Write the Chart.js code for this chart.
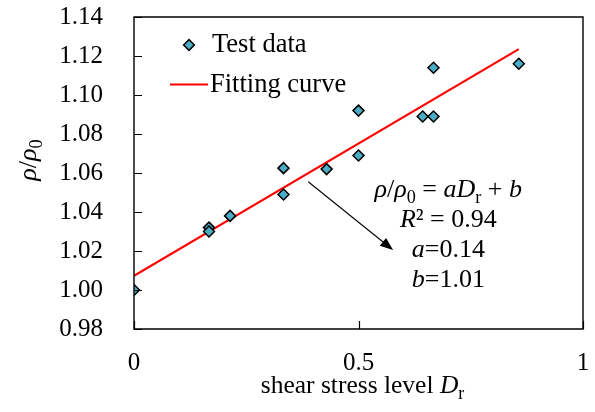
<!DOCTYPE html>
<html>
<head>
<meta charset="utf-8">
<script src="https://cdn.jsdelivr.net/npm/chart.js@4.4.0/dist/chart.umd.min.js"></script>
<style>
  html, body { margin: 0; padding: 0; background: #fff; }
  #wrap { position: relative; width: 595px; height: 412px; }
  #wrap canvas { position: absolute; left: 0; top: 0; }
  #frame { pointer-events: none; }
</style>
</head>
<body>
<div id="wrap">
  <canvas id="myChart" width="595" height="412"></canvas>
  <canvas id="frame" width="595" height="412"></canvas>
</div>
<script>
'use strict';

// test data: shear stress level vs density ratio
let shearLevel = [0, 0.167, 0.167, 0.214, 0.333, 0.333, 0.429, 0.5, 0.5, 0.643, 0.667, 0.667, 0.857];
let densityRatio = [1.000, 1.032, 1.030, 1.038, 1.0625, 1.049, 1.062, 1.092, 1.069, 1.089, 1.089, 1.114, 1.116];

// fitted line end points
let fitX = [0, 0.857];
let fitY = [1.0073, 1.1235];

let xTicks = [0, 0.5, 1];
let yTicks = [0.98, 1.00, 1.02, 1.04, 1.06, 1.08, 1.10, 1.12, 1.14];

// annotation (data coords)
let noteAt = { x: 0.70, y: 1.0477 };
let arrowFrom = { x: 0.388, y: 1.0555 };
let arrowTo = { x: 0.577, y: 1.0205 };

const FONT = "'Liberation Serif', 'Times New Roman', serif";
const TICK_SIZE = 25;
const SIZE = 26;

function toPoints(xs, ys) {
  let pts = [];
  for (let i = 0; i < xs.length; i++) {
    pts.push({ x: xs[i], y: ys[i] });
  }
  return pts;
}

// draws a list of text pieces; returns total width
function richText(ctx, parts, x, y, size, align) {
  let w = 0;
  for (let p of parts) {
    let s = p.sub ? size * 0.7 : size;
    ctx.font = (p.it ? 'italic ' : '') + s + 'px ' + FONT;
    p.w = ctx.measureText(p.t).width;
    w += p.w;
  }
  let cx = align === 'center' ? x - w / 2 : x;
  ctx.textAlign = 'left';
  ctx.textBaseline = 'alphabetic';
  for (let p of parts) {
    let s = p.sub ? size * 0.7 : size;
    ctx.font = (p.it ? 'italic ' : '') + s + 'px ' + FONT;
    ctx.fillText(p.t, cx, y + (p.sub ? size * 0.22 : 0));
    cx += p.w;
  }
  return w;
}

// plot box and inward ticks, drawn on the overlay canvas from the chart's scales
function drawFrame(chart) {
  let ctx = document.getElementById('frame').getContext('2d');
  let area = chart.chartArea;
  let xs = chart.scales.x;
  let ys = chart.scales.y;
  ctx.clearRect(0, 0, 595, 412);
  ctx.strokeStyle = '#000';
  ctx.lineWidth = 1.4;
  ctx.beginPath();
  ctx.rect(area.left, area.top, area.right - area.left, area.bottom - area.top);
  ctx.stroke();
  ctx.lineWidth = 1.2;
  ctx.beginPath();
  for (let v of yTicks) {
    let py = Math.round(ys.getPixelForValue(v)) + 0.5;
    ctx.moveTo(area.left, py);
    ctx.lineTo(area.left + 8, py);
  }
  for (let v of xTicks) {
    let px = Math.round(xs.getPixelForValue(v)) + 0.5;
    ctx.moveTo(px, area.bottom);
    ctx.lineTo(px, area.bottom - 8);
  }
  ctx.stroke();
}

let decorations = {
  id: 'decorations',
  afterDraw(chart) {
    let ctx = chart.ctx;
    let area = chart.chartArea;
    let xs = chart.scales.x;
    let ys = chart.scales.y;

    ctx.save();
    ctx.strokeStyle = '#000';
    ctx.fillStyle = '#000';

    // axis titles
    richText(ctx, [{ t: 'shear stress level ' }, { t: 'D', it: true }, { t: 'r', sub: true }],
      (area.left + area.right) / 2 + 4, 393, 25.5, 'center');
    ctx.save();
    ctx.translate(36, 160);
    ctx.rotate(-Math.PI / 2);
    richText(ctx, [{ t: 'ρ', it: true }, { t: '/' }, { t: 'ρ', it: true }, { t: '0', sub: true }],
      0, 0, SIZE, 'center');
    ctx.restore();

    // legend
    let ds = chart.data.datasets;
    ctx.font = '26.5px ' + FONT;
    ctx.textBaseline = 'alphabetic';
    ctx.textAlign = 'left';
    ctx.save();
    ctx.translate(189, 45);
    ctx.rotate(Math.PI / 4);
    ctx.fillStyle = ds[0].backgroundColor;
    ctx.lineWidth = 1.5;
    ctx.fillRect(-3.8, -3.8, 7.6, 7.6);
    ctx.strokeRect(-3.8, -3.8, 7.6, 7.6);
    ctx.restore();
    ctx.fillText(ds[0].label, 212, 52);
    ctx.strokeStyle = ds[1].borderColor;
    ctx.lineWidth = 2.2;
    ctx.beginPath();
    ctx.moveTo(170, 84.5);
    ctx.lineTo(208, 84.5);
    ctx.stroke();
    ctx.fillStyle = '#000';
    ctx.fillText(ds[1].label, 210, 92);

    // equation note
    let nx = xs.getPixelForValue(noteAt.x);
    let ny = ys.getPixelForValue(noteAt.y);
    let lines = [
      [{ t: 'ρ', it: true }, { t: '/' }, { t: 'ρ', it: true }, { t: '0', sub: true }, { t: ' = ' },
       { t: 'aD', it: true }, { t: 'r', sub: true }, { t: ' + ' }, { t: 'b', it: true }],
      [{ t: 'R', it: true }, { t: '² = 0.94' }],
      [{ t: 'a', it: true }, { t: '=0.14' }],
      [{ t: 'b', it: true }, { t: '=1.01' }]
    ];
    for (let i = 0; i < lines.length; i++) {
      richText(ctx, lines[i], nx, ny + i * 30, SIZE, 'center');
    }

    // arrow
    let ax = xs.getPixelForValue(arrowFrom.x);
    let ay = ys.getPixelForValue(arrowFrom.y);
    let bx = xs.getPixelForValue(arrowTo.x);
    let by = ys.getPixelForValue(arrowTo.y);
    let ang = Math.atan2(by - ay, bx - ax);
    ctx.strokeStyle = '#000';
    ctx.lineWidth = 1.1;
    ctx.beginPath();
    ctx.moveTo(ax, ay);
    ctx.lineTo(bx - 10 * Math.cos(ang), by - 10 * Math.sin(ang));
    ctx.stroke();
    ctx.beginPath();
    ctx.moveTo(bx, by);
    ctx.lineTo(bx - 13 * Math.cos(ang) + 5 * Math.sin(ang), by - 13 * Math.sin(ang) - 5 * Math.cos(ang));
    ctx.lineTo(bx - 13 * Math.cos(ang) - 5 * Math.sin(ang), by - 13 * Math.sin(ang) + 5 * Math.cos(ang));
    ctx.closePath();
    ctx.fill();

    ctx.restore();

    drawFrame(chart);
  }
};

const data = {
  datasets: [
    {
      label: 'Test data',
      data: toPoints(shearLevel, densityRatio),
      pointStyle: 'rectRot',
      pointRadius: 5.5,
      pointBorderWidth: 1.5,
      backgroundColor: '#4bacc6',
      borderColor: '#000',
      showLine: false
    },
    {
      label: 'Fitting curve',
      data: toPoints(fitX, fitY),
      showLine: true,
      pointRadius: 0,
      borderColor: '#ff0000',
      borderWidth: 2.2,
      fill: false
    }
  ]
};

const config = {
  type: 'scatter',
  data: data,
  options: {
    responsive: false,
    animation: false,
    devicePixelRatio: 1,
    layout: { padding: { top: 17, right: 12, bottom: 0, left: 0 } },
    plugins: {
      legend: { display: false },
      tooltip: { enabled: false }
    },
    scales: {
      x: {
        type: 'linear',
        min: 0,
        max: 1,
        afterBuildTicks: (scale) => { scale.ticks = xTicks.map(v => ({ value: v })); },
        afterFit: (scale) => {
          scale.height = 83;
          scale.paddingLeft = 0;
          scale.paddingRight = 0;
        },
        grid: { display: false, drawTicks: false },
        border: { display: false },
        ticks: {
          padding: 19,
          color: '#000',
          font: { family: FONT, size: TICK_SIZE },
          maxRotation: 0,
          callback: (v) => String(v)
        }
      },
      y: {
        type: 'linear',
        min: 0.98,
        max: 1.14,
        afterBuildTicks: (scale) => { scale.ticks = yTicks.map(v => ({ value: v })); },
        afterFit: (scale) => {
          scale.width = 134;
          scale.paddingTop = 0;
          scale.paddingBottom = 0;
        },
        grid: { display: false, drawTicks: false },
        border: { display: false },
        ticks: {
          padding: 31,
          color: '#000',
          font: { family: FONT, size: TICK_SIZE },
          callback: (v) => Number(v).toFixed(2)
        }
      }
    }
  },
  plugins: [decorations]
};

const myChart = new Chart(document.getElementById('myChart'), config);
</script>
</body>
</html>
